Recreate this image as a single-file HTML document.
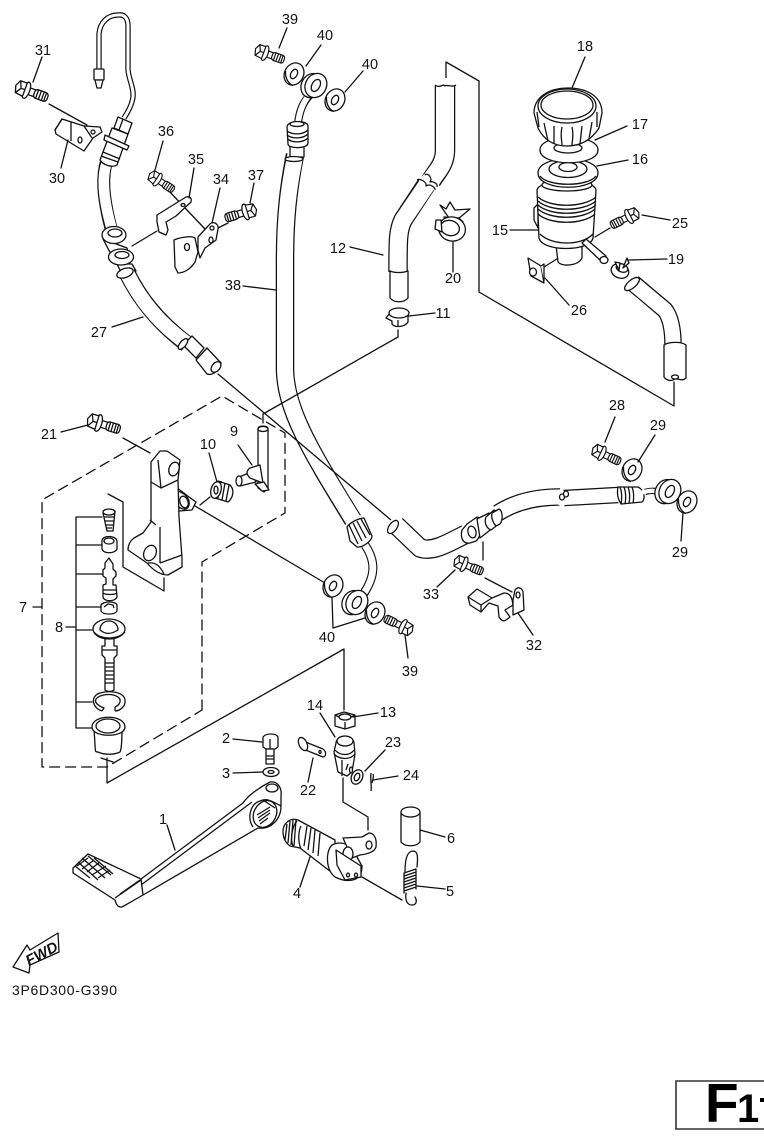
<!DOCTYPE html>
<html><head><meta charset="utf-8"><style>
html,body{margin:0;padding:0;background:#fff;width:764px;height:1142px;overflow:hidden}
svg{display:block;filter:blur(.3px)}
.l *,.l{fill:none;stroke:#111;stroke-width:1.3;stroke-linejoin:round;stroke-linecap:round}
.p *{fill:#fff;stroke:#111;stroke-width:1.3;stroke-linejoin:round}
.n{fill:none!important}
text{font-family:"Liberation Sans",sans-serif;font-size:14.5px;fill:#111;text-anchor:middle}
.hb{fill:none;stroke:#111;stroke-linecap:butt;stroke-linejoin:round}
.hw{fill:none;stroke:#fff;stroke-linecap:square;stroke-linejoin:round}
</style></head><body>
<svg width="764" height="1142" viewBox="0 0 764 1142" xmlns="http://www.w3.org/2000/svg">
<defs>
<g id="bolt" class="p">
<rect x="5" y="-3.5" width="9" height="7"/>
<rect x="12" y="-4.5" width="14" height="9" rx="3"/>
<path class="n" d="M15,-4.5v9M18,-4.5v9M21,-4.5v9M23.5,-4.5v9"/>
<ellipse cx="3.5" cy="0" rx="3.5" ry="8.5"/>
<path d="M2,-7L-5,-7L-8,-1L-6,6L2,7Z"/>
<path class="n" d="M-5,-7L-2,0L-6,6M-2,0L2,0"/>
</g>
<g id="wash" class="p">
<ellipse cx="0" cy="0" rx="9.5" ry="11.5" transform="rotate(28)"/>
<ellipse cx="0" cy="0" rx="3.2" ry="5" transform="rotate(28)"/>
<path class="n" d="M-8.5,-3C-9,5 -5,10 -1,11.5"/>
</g>
<g id="eye" class="p">
<ellipse cx="-2.5" cy="2" rx="10.5" ry="12.5" transform="rotate(28)"/>
<ellipse cx="1" cy="0" rx="10.5" ry="12.5" transform="rotate(28)"/>
<ellipse cx="1" cy="0" rx="4" ry="6.5" transform="rotate(28)"/>
</g>
</defs>

<!-- phantom lines behind -->
<g class="l">
<path d="M446,85V62L479,81V292L674,406V382"/>
<path d="M190,503L325,583"/>
<path d="M49,104L87,125"/>
<path d="M123,438L150,453"/>
<path d="M107,758V783L344,649V710"/>
<path d="M108,494L123,502V567L164,591V578"/>
<path d="M76,517V728M76,517H102M76,545H102M76,574H105M76,607H102M76,630H92M76,702H92M76,728H92M66,627H76"/>
<path d="M33,607H42"/>
<path d="M483,542V560"/>
<path d="M485,578L512,592"/>
<path d="M362,877L402,900"/>
<path d="M343,778V802L368,817V830"/>
<path d="M132,246L157,231"/>
<path d="M168,190L205,229"/>
<path d="M218,228L228,223"/>
<path d="M544,267L560,257"/>
<path d="M610,228L595,237"/>
<path d="M200,505L210,497"/>
<path stroke-dasharray="10 6" d="M202,710V562L285,513V433L222,396L42,500V767H107L202,710"/>
</g>

<!-- steel pipe top-left -->
<path class="hb" stroke-width="5.4" d="M99,69V34C100,22 108,15 118,15C125,14 128,19 128,26V70C129,80 134,88 133,97C132,105 128,112 124,118"/>
<path class="hw" stroke-width="3" d="M99,68V34C100,22 108,15 118,15C125,14 128,19 128,26V70C129,80 134,88 133,97C132,105 128,112 124,118"/>
<g class="p">
<rect x="94" y="69" width="10" height="11" rx="1"/><path d="M95,80L97,88H101L103,80Z"/>
</g>

<!-- hose 27 upper -->
<path class="hb" stroke-width="13" d="M107,160C102,175 102,195 112,232"/>
<path class="hw" stroke-width="10.6" d="M107,162C102,175 102,195 112,230"/>
<g class="p">
<path d="M112,128L128,134L117,165C112,168 103,165 100,160Z"/>
<path class="n" d="M103,152L120,159M101,156L118,162"/>
<path d="M105,135L129,146L127,150L104,140Z"/>
<path d="M118,117L132,123L128,134L114,128Z"/>
<path class="n" d="M123,119L119,130"/>
<path d="M103,239L127,248L130,258L113,258Z"/>
<ellipse cx="114" cy="235" rx="12" ry="8.5"/>
<ellipse cx="115" cy="233" rx="7" ry="4"/>
<path d="M117,264H132L136,271L125,280Z"/>
<ellipse cx="121" cy="257" rx="12.5" ry="8"/>
<ellipse cx="122" cy="255" rx="7" ry="3.5"/>
</g>
<!-- hose 27 lower -->
<path class="hb" stroke-width="17" d="M127,273C138,295 155,320 187,344"/>
<path class="hw" stroke-width="14.6" d="M128,275C138,295 155,320 185,342"/>
<g class="p">
<ellipse cx="125" cy="273" rx="8.5" ry="4.5" transform="rotate(-20 125 273)"/>
<path d="M186,342L192,336L193,337L204,348L196,358L185,347Z"/>
<path d="M196,360L207,348L221,363C221,370 212,376 207,374Z"/>
<ellipse cx="216" cy="367" rx="4" ry="6" transform="rotate(40 216 367)"/>
<ellipse cx="183" cy="344" rx="3" ry="6.5" transform="rotate(40 183 344)"/>
</g>

<!-- bracket 30 -->
<g class="p">
<path d="M55,130L62,119L84,126L100,127L102,132L93,138L84,151L56,134Z"/>
<path class="n" d="M71,122V141M62,119L55,130M84,126L92,138"/>
<ellipse cx="80" cy="140" rx="2" ry="3"/><ellipse cx="93" cy="132" rx="2" ry="2"/>
</g>
<!-- bolts upper-left -->
<use href="#bolt" transform="translate(23,89) rotate(20)"/>
<use href="#bolt" transform="translate(155,178) rotate(33) scale(.85)"/>
<use href="#bolt" transform="translate(249,211) rotate(163) scale(.95)"/>
<!-- clamp 35 -->
<g class="p">
<path d="M157,215L186,197C190,196 192,198 191,202L176,216L166,222L168,230L166,235L159,232L157,222Z"/>
<ellipse cx="183" cy="205" rx="2" ry="1.5"/>
</g>
<!-- bracket 34 -->
<g class="p">
<path d="M174,240C178,238 192,235 195,238L198,252L195,262C190,270 183,273 178,273L175,267Z"/>
<ellipse cx="187" cy="247" rx="2.5" ry="3.5"/>
<path d="M198,237L209,225C213,220 219,224 218,229L216,240L205,248L200,258L198,250Z"/>
<ellipse cx="212" cy="228" rx="2" ry="2"/><ellipse cx="211" cy="240" rx="2" ry="3"/>
</g>

<!-- hose 38 -->
<path class="hb" stroke-width="18.5" d="M295,155C288,190 285,220 285,260V370C286,410 310,450 353,520"/>
<path class="hw" stroke-width="16" d="M295,157C288,190 285,220 285,260V370C286,410 310,450 352,518"/>
<path class="hb" stroke-width="8" d="M298,124C299,112 303,102 310,95"/>
<path class="hw" stroke-width="5.8" d="M298,124C299,112 303,102 310,94"/>
<g class="p">
<path d="M290,146H304V157H290Z"/>
<path d="M287,127C287,120 308,120 308,126V143C308,149 288,149 288,144Z"/>
<path class="n" d="M287,131C292,135 303,135 308,130M287,135C292,139 303,139 308,134M288,139C292,143 303,143 308,138"/>
<ellipse cx="297" cy="124" rx="7" ry="2.5"/>
<ellipse cx="294" cy="159" rx="9" ry="2.5"/>
</g>
<use href="#eye" transform="translate(315,85)"/>
<use href="#wash" transform="translate(294,74)"/>
<use href="#wash" transform="translate(335,100)"/>
<use href="#bolt" transform="translate(262,52) rotate(20) scale(.9)"/>

<!-- lower end of hose 38 -->
<path class="hb" stroke-width="9" d="M365,545C375,560 377,575 362,596"/>
<path class="hw" stroke-width="6.8" d="M365,545C375,560 377,575 362,596"/>
<g class="p">
<path d="M347,527C350,522 360,518 364,518L372,536C372,541 362,548 357,547L350,541Z"/>
<path class="n" d="M349,525L358,544M353,523L362,541M357,521L366,538M361,519L370,535"/>
</g>
<use href="#eye" transform="translate(356,602)"/>
<use href="#wash" transform="translate(333,586)"/>
<use href="#wash" transform="translate(375,613)"/>
<use href="#bolt" transform="translate(406,628) rotate(205) scale(.9)"/>

<!-- long crossing phantom lines -->
<g class="l">
<path d="M398,330V337L263,414V423"/>
<path d="M218,374L391,520"/>
</g>

<!-- reservoir hoses -->
<path class="hb" stroke-width="20.5" d="M445,85V150C445,165 436,172 431,181"/>
<path class="hw" stroke-width="18" d="M445,87V150C445,165 436,172 432,179"/>
<path class="hb" stroke-width="19.5" d="M426,185L403,220C398,230 398,240 398,272"/>
<path class="hw" stroke-width="17" d="M426,186L403,220C398,230 398,240 398,272"/>
<g class="p">
<path class="n" d="M435,85C440,89 443,83 445,86C448,84 452,88 456,85"/>
<path d="M390,271C394,273 403,273 408,271V298C404,303 394,303 390,298Z"/>
<path class="n" d="M425,175C428,172 433,179 430,182C434,181 438,184 437,187M417,180C420,178 427,182 426,186C430,183 436,188 435,190"/>
</g>
<!-- clip 20 -->
<g class="p">
<path d="M440,205L446,209L450,202L455,210L470,209L458,219L449,218Z"/>
<path d="M444,217L459,218L463,222L455,225L447,225Z"/>
<ellipse cx="452" cy="229" rx="13.5" ry="12" transform="rotate(15 452 229)"/>
<ellipse cx="450" cy="228" rx="9.5" ry="7.5" transform="rotate(15 450 228)"/>
<path d="M436,220L441,220L442,232L435,229Z"/>
</g>
<!-- clamp 11 -->
<g class="p">
<path d="M390,313L386,318L392,321V324C395,328 405,327 408,322V313Z"/>
<ellipse cx="399" cy="313" rx="10" ry="5"/>
<path class="n" d="M398,320V327"/>
</g>

<!-- hose to reservoir right -->
<path class="hb" stroke-width="17.5" d="M633,283L665,310C671,318 673,330 673,345"/>
<path class="hw" stroke-width="15" d="M634,284L665,310C671,318 673,330 673,345"/>
<g class="p">
<ellipse cx="632" cy="284" rx="9" ry="4" transform="rotate(-40 632 284)"/>
<path d="M664,345C668,342 681,341 686,345V378C682,382 679,378 675,379C671,382 666,380 664,377Z"/>
<ellipse cx="675" cy="377" rx="3.5" ry="2"/>
</g>

<!-- reservoir body -->
<g class="p">
<path d="M534,208L538,204V228L534,220Z"/>
<path d="M556,245H582V258C578,266 562,267 558,262Z"/>
<path d="M537,190C540,178 594,178 596,190L593,238C590,252 542,252 539,238Z"/>
<path class="n" d="M538,197C550,208 583,208 596,197M538,201C550,212 583,212 596,201M538,205C550,216 583,216 596,205M538,209C550,220 583,220 595,209M538,214C550,225 583,225 595,214"/>
<path class="n" d="M540,234C552,246 582,246 593,234"/>
<ellipse cx="567" cy="185" rx="25" ry="6"/>
<path d="M538,173C538,154 598,154 598,173C598,192 538,192 538,173Z"/>
<ellipse cx="568" cy="169" rx="19" ry="8.5"/>
<ellipse cx="568" cy="167" rx="9" ry="4.5"/>
<path class="n" d="M540,176C548,187 588,187 596,176"/>
<path d="M540,150C540,133 598,133 598,150C598,167 540,167 540,150Z"/>
<ellipse cx="568" cy="148" rx="14" ry="5"/>
<path d="M534,113C534,95 552,88 568,88C585,88 602,95 602,113L599,128C590,142 578,146 567,146C556,146 545,142 538,128Z"/>
<ellipse cx="567" cy="106" rx="29" ry="17"/>
<ellipse cx="567" cy="105" rx="26" ry="14"/>
<path class="n" d="M544,123L548,141M554,126V144M562,127C560,135 562,142 562,145M572,127C574,135 572,142 572,145M582,126L580,144M592,122L589,139M537,112L539,127M597,112L597,127"/>
<path d="M582,243L586,239L606,256L602,262Z"/>
<ellipse cx="604" cy="260" rx="4" ry="3.5"/>
</g>
<use href="#bolt" transform="translate(632,215) rotate(153) scale(.9)"/>
<!-- 19 clamp -->
<g class="p">
<ellipse cx="620" cy="271" rx="9" ry="7" transform="rotate(20 620 271)"/>
<ellipse cx="622" cy="268" rx="6" ry="4" transform="rotate(20 622 268)"/>
<path d="M615,262L620,263L619,270ZM627,258L629,263L623,268Z"/>
</g>
<!-- 26 -->
<g class="p">
<path d="M528,258L541,266L544,283L531,276Z"/>
<ellipse cx="533" cy="272" rx="3.5" ry="4"/>
<path d="M541,266L544,264L544,281"/>
</g>

<!-- master cylinder -->
<g class="p">
<path d="M176,487L189,497L196,502L192,510L179,511Z"/>
<path d="M172,492C174,488 187,493 189,501C190,507 187,510 183,509L173,505Z"/>
<ellipse cx="184" cy="502" rx="4" ry="6" transform="rotate(-20 184 502)"/>
<path d="M151,462L160,451H167L180,460L178,480L179,517L182,558V567L168,575C160,575 153,570 147,563L128,550C128,545 130,541 134,538L143,533L151,522V482Z"/>
<path class="n" d="M158,460L161,488L178,480M151,482L161,488M160,527V563M156,525L150,520M160,563L182,555M148,563C156,562 160,566 164,574"/>
<ellipse cx="174" cy="469" rx="5" ry="7" transform="rotate(20 174 469)"/>
<ellipse cx="150" cy="553" rx="6" ry="8" transform="rotate(25 150 553)"/>
</g>
<use href="#bolt" transform="translate(95,422) rotate(17)"/>
<!-- 10 spring -->
<g class="p">
<path d="M218,481L230,485C235,490 233,498 228,502L215,498Z"/>
<path class="n" d="M221,481L218,498M225,483L222,500M229,485L226,501"/>
<ellipse cx="216" cy="490" rx="5" ry="8.5" transform="rotate(15 216 490)"/>
<ellipse cx="216" cy="490" rx="2" ry="4"/>
</g>
<!-- 9 -->
<g class="p">
<path d="M258,429C258,425 268,425 268,429V488L264,492L258,488Z"/>
<ellipse cx="263" cy="429" rx="5" ry="2.5"/>
<path d="M237,478L251,472L256,482L240,486Z"/>
<ellipse cx="239" cy="481" rx="3" ry="5"/>
<path d="M250,468L260,465L263,483L250,478C246,474 246,471 250,468Z"/>
<path d="M255,484L264,482L269,490L262,491Z"/>
</g>

<!-- inner parts -->
<g class="p">
<path d="M103,513L115,511L113,531H107Z"/>
<ellipse cx="109" cy="512" rx="6" ry="3"/>
<path class="n" d="M104,517H114M105,521H114M105,525H113M106,528H112"/>
<path d="M102,541C102,535 116,535 117,541V549C115,554 103,554 102,549Z"/>
<ellipse cx="109" cy="541" rx="5" ry="3"/>
<path d="M109,558L113,564V569L116,572V576L113,579V585H116L117,597C115,602 104,602 103,597V585L106,584V578L103,576V570L105,568V563Z"/>
<path class="n" d="M103,590H117M103,593C106,595 114,595 117,593"/>
<path d="M101,605C103,601 116,601 117,605V611C115,615 103,615 101,611Z"/>
<path class="n" d="M104,607L108,604L113,605L114,608"/>
<path d="M105,636H114V646H117V655L114,658V690C111,692 108,692 105,690V658L102,655V646H105Z"/>
<path class="n" d="M105,663H114M105,667H114M105,671H114M105,675H114M105,679H114M105,683H114M102,650H117"/>
<ellipse cx="109" cy="629" rx="16" ry="10"/>
<path class="n" d="M94,632C100,640 118,640 125,632M100,630C100,618 118,618 118,630C110,635 105,634 100,630Z"/>
<path class="n" d="M102,711C92,708 90,696 100,693C110,690 124,692 125,700C126,706 120,711 115,711M115,707C120,705 122,700 118,697C112,693 100,694 96,699C94,703 99,706 104,708L102,711M115,711V707"/>
<path d="M94,730C96,752 94,752 98,752C104,755 114,755 120,752C122,748 122,735 122,728Z"/>
<path d="M92,727C92,714 125,714 125,727C125,738 92,738 92,727Z"/>
<ellipse cx="108" cy="726" rx="12" ry="7"/>
</g>
<path class="l" d="M101,758L113,762"/>

<!-- lower main hose -->
<path class="hb" stroke-width="19.5" d="M396,525L420,548C432,552 445,545 466,534"/>
<path class="hw" stroke-width="17" d="M397,526L420,548C432,552 445,545 464,535"/>
<path class="hb" stroke-width="17.5" d="M498,513C515,502 535,497 560,497"/>
<path class="hw" stroke-width="15" d="M498,513C515,502 535,497 559,497"/>
<path class="hb" stroke-width="16.5" d="M564,498L618,495"/>
<path class="hw" stroke-width="14" d="M565,498L618,495"/>
<g class="p">
<ellipse cx="393" cy="527" rx="4" ry="7.5" transform="rotate(35 393 527)"/>
<ellipse cx="562" cy="497" rx="2.5" ry="3"/>
<ellipse cx="566" cy="494" rx="2.5" ry="3"/>
<path d="M467,524L477,517C485,517 482,536 476,541L470,543C463,544 460,538 462,530Z"/>
<ellipse cx="472" cy="532" rx="4" ry="6" transform="rotate(-15 472 532)"/>
<path d="M477,519L489,513L494,527L480,538Z"/>
<path d="M486,517L494,510C499,512 499,523 495,527L491,530C486,528 484,522 486,517Z"/>
<path d="M492,513L499,509C503,511 503,520 500,524L496,526C493,523 491,518 492,513Z"/>
<path d="M618,487H638C644,490 646,498 642,502L621,504C617,498 617,492 618,487Z"/>
<path class="n" d="M620,487C622,492 622,499 621,504M624,487C626,492 626,499 625,504M628,487C630,492 630,499 629,503M632,487C634,492 634,499 633,503"/>
</g>
<path class="hb" stroke-width="6.5" d="M645,492C652,490 658,490 663,496"/>
<path class="hw" stroke-width="4.3" d="M644,492C652,490 658,490 663,496"/>
<use href="#eye" transform="translate(669,491)"/>
<use href="#wash" transform="translate(687,502)"/>
<use href="#wash" transform="translate(632,470)"/>
<use href="#bolt" transform="translate(599,452) rotate(25) scale(.9)"/>
<use href="#bolt" transform="translate(461,563) rotate(22) scale(.9)"/>
<!-- 32 -->
<g class="p">
<path d="M468,597L477,589L492,598L504,593C510,593 512,597 513,605L505,610L510,617L506,620C503,622 501,620 499,617L498,606L489,603L481,612L470,605Z"/>
<path class="n" d="M468,597L481,605L481,612M481,605L492,598"/>
<path d="M513,600L515,590C518,586 522,588 523,592L524,610L513,615Z"/>
<ellipse cx="518" cy="595" rx="2" ry="3"/>
</g>

<!-- 13 14 2 3 22 23 24 -->
<g class="p">
<path d="M335,715L344,712L355,715V726L345,729L335,726Z"/>
<ellipse cx="345" cy="717" rx="6" ry="3"/>
<path class="n" d="M345,722V729M339,717L335,715M351,717L355,715"/>
<path d="M263,737C266,733 276,733 278,737V747L275,749H266L263,747Z"/>
<path class="n" d="M270,739V749"/>
<path d="M266,749H274V764H266Z"/><path class="n" d="M266,756H274M266,759H274"/>
<ellipse cx="271" cy="772" rx="8" ry="4.5"/><ellipse cx="271" cy="772" rx="3" ry="1.5"/>
<path d="M303,741L323,749C327,752 326,757 323,757L303,749Z"/>
<ellipse cx="303" cy="744" rx="4" ry="7" transform="rotate(-25 303 744)"/>
<ellipse cx="320" cy="752" rx="1" ry="1.5"/>
<path d="M336,743C336,735 354,735 354,743L355,754L352,772L347,776L338,772L334,752Z"/>
<ellipse cx="345" cy="741" rx="8" ry="5"/>
<path class="n" d="M335,750C340,756 350,756 354,750M334,754C340,760 350,760 355,754M342,760V776M348,764L346,770"/>
<ellipse cx="351" cy="770" rx="1.5" ry="3"/>
<ellipse cx="357" cy="777" rx="5.5" ry="7.5" transform="rotate(25 357 777)"/>
<ellipse cx="357" cy="777" rx="2.5" ry="4" transform="rotate(25 357 777)"/>
<path class="n" d="M371,773C370,780 372,786 371,791M373,774C374,776 373,779 372,783"/>

<!-- pedal 1 -->
<path d="M73,868L88,854L141,879L243,803C248,795 262,786 270,782C278,781 282,788 281,796V806C281,820 270,830 258,828L143,895L122,907C118,908 116,904 115,900L73,873Z"/>
<path class="n" d="M141,879L143,895M115,898L141,880M120,894L140,880M141,885L252,802M253,827C247,818 250,804 260,801C266,798 270,800 281,806"/>
<ellipse cx="265" cy="814" rx="11" ry="14" transform="rotate(30 265 814)"/>
<ellipse cx="272" cy="788" rx="6" ry="4"/>
<path class="n" d="M257,815L270,807M258,818L270,810M259,821L270,813M260,824L268,818M263,800L275,808"/>
<path class="n" d="M77,866L88,858M82,869L94,860M87,872L100,862M92,875L106,866M98,878L110,870M82,858L105,878M88,856L111,875M94,858L113,874M78,862L98,880M75,866L90,878"/>

<!-- shaft 4 -->
<path d="M283,831C283,824 290,817 298,820L335,840V875L300,848L290,846C285,842 283,838 283,831Z"/>
<path class="n" d="M297,821C292,826 290,840 293,846M301,826C298,832 298,842 301,849M307,826L304,846M311,828L308,850M315,830L313,853M320,833L318,856"/>
<path class="n" d="M287,824L285,840M290,821L288,843M293,820L291,845M296,820L294,846"/>
<path d="M332,845C325,852 326,870 335,877C345,882 362,884 362,866L352,848C345,842 338,842 332,845Z"/>
<path d="M343,838L362,837L369,833C374,833 377,838 376,847C374,853 366,854 360,855L352,858Z"/>
<ellipse cx="369" cy="845" rx="3" ry="4"/>
<ellipse cx="348" cy="854" rx="5" ry="7"/>
<path d="M336,850L361,866L361,877L345,880L337,865Z"/>
<ellipse cx="348" cy="875" rx="1.5" ry="2"/><ellipse cx="356" cy="875" rx="1.5" ry="2"/>

<!-- pipe 6 -->
<path d="M401,813V842C405,847 416,847 420,842V813Z"/>
<ellipse cx="410.5" cy="812" rx="9.5" ry="5"/>
</g>
<!-- spring 5 -->
<g class="l">
<path d="M405,872C405,860 407,851 413,851C418,851 418,857 417,867"/>
<path d="M404,873L416,869M404,876L416,872M404,879L416,875M404,882L416,878M404,885L416,881M404,888L416,884M404,891L416,887M404,873V893M416,869V889"/>
<path d="M406,893C405,900 407,905 412,905C417,905 417,900 415,897"/>
</g>

<!-- leaders -->
<g class="l">
<path d="M42,57L33,82M68,140L61,168"/>
<path d="M163,141L155,170M194,168L189,198M220,188L212,223M254,183L250,203"/>
<path d="M287,28L279,48M321,45L306,66M363,71L345,92"/>
<path d="M350,247L383,255M243,286L276,290M112,327L143,317"/>
<path d="M585,57L572,88M627,126L595,140M628,160L597,166M510,230L538,230M642,215L670,220M629,260L667,259M453,242V272M545,278L569,305M409,316L435,313"/>
<path d="M615,417L605,442M655,435L638,462M683,513L681,541"/>
<path d="M238,445L252,465M209,453L217,482M61,432L88,425"/>
<path d="M455,570L437,587M518,613L533,635"/>
<path d="M332,598L333,628L365,618M405,635L408,658"/>
<path d="M353,717L378,713M320,713L335,737M233,739L262,742M233,773L263,772M313,758L308,782M385,750L365,771M373,780L398,776"/>
<path d="M167,825L175,850M310,857L300,887M420,830L445,837M417,886L445,889"/>
</g>

<!-- FWD arrow -->
<g class="p">
<path d="M13,967L27,945L30,950L58,933L59,952L30,965L29,973Z"/>
</g>
<text x="44" y="958" transform="rotate(-28 44 958)" style="font-size:15px;font-weight:bold;font-style:italic">FWD</text>

<!-- labels -->
<g>
<text x="43" y="55">31</text><text x="57" y="183">30</text><text x="166" y="136">36</text><text x="196" y="164">35</text>
<text x="221" y="184">34</text><text x="256" y="180">37</text><text x="290" y="24">39</text><text x="325" y="40">40</text>
<text x="370" y="69">40</text><text x="338" y="253">12</text><text x="233" y="290">38</text><text x="99" y="337">27</text>
<text x="585" y="51">18</text><text x="640" y="129">17</text><text x="640" y="164">16</text><text x="500" y="235">15</text>
<text x="680" y="228">25</text><text x="676" y="264">19</text><text x="453" y="283">20</text><text x="579" y="315">26</text>
<text x="443" y="318">11</text><text x="617" y="410">28</text><text x="658" y="430">29</text><text x="680" y="557">29</text>
<text x="234" y="436">9</text><text x="208" y="449">10</text><text x="49" y="439">21</text><text x="23" y="612">7</text>
<text x="59" y="632">8</text><text x="431" y="599">33</text><text x="534" y="650">32</text><text x="327" y="642">40</text>
<text x="410" y="676">39</text><text x="388" y="717">13</text><text x="315" y="710">14</text><text x="393" y="747">23</text>
<text x="411" y="780">24</text><text x="226" y="743">2</text><text x="226" y="778">3</text><text x="308" y="795">22</text>
<text x="163" y="824">1</text><text x="451" y="843">6</text><text x="297" y="898">4</text><text x="450" y="896">5</text>
</g>
<text x="12" y="995" textLength="105" style="text-anchor:start;font-size:14px">3P6D300-G390</text>

<!-- F1 box -->
<path d="M770,1081H676V1129H770" fill="none" stroke="#333" stroke-width="1.6"/>
<text x="705" y="1122" style="text-anchor:start;font-size:55px;font-weight:bold;fill:#000">F</text>
<text x="737" y="1122" style="text-anchor:start;font-size:40px;font-weight:bold;fill:#000">1</text>
<rect x="760" y="1098" width="4" height="4" fill="#000"/>
</svg>
</body></html>
